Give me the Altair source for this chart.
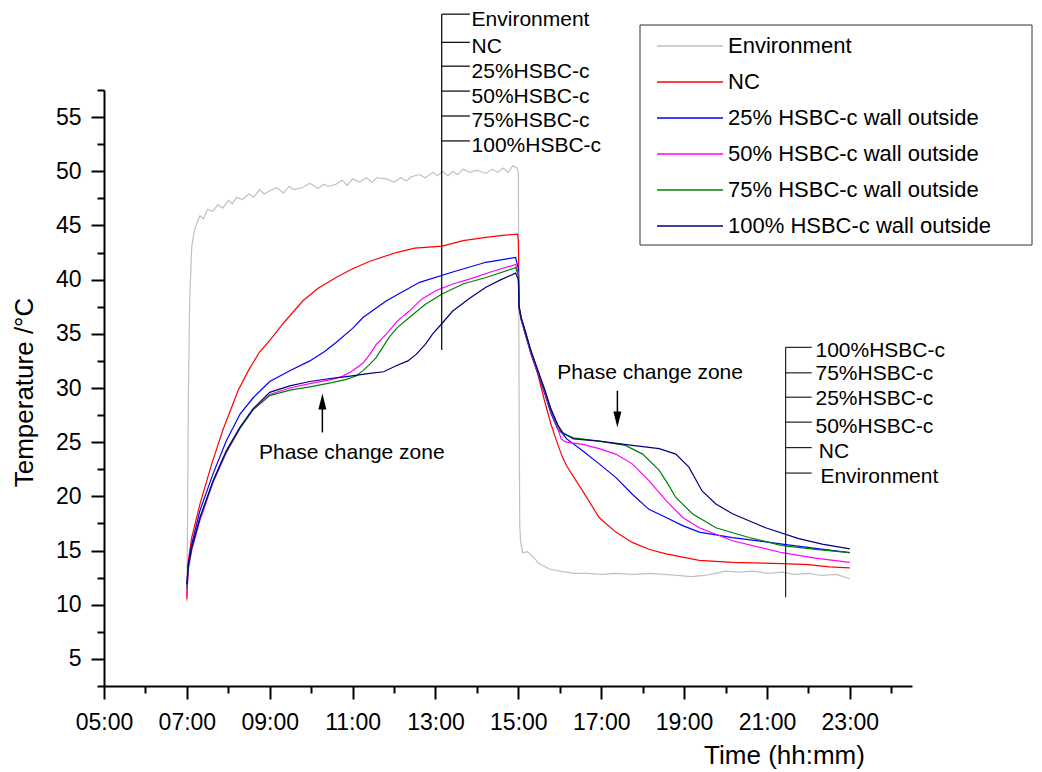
import altair as alt
import pandas as pd

FONT = "Liberation Sans, Arial, sans-serif"

series_names = ["Environment", "NC", "25% HSBC-c wall outside", "50% HSBC-c wall outside",
                "75% HSBC-c wall outside", "100% HSBC-c wall outside"]
series_colors = ["#c0c0c0", "#ff0000", "#0000ff", "#ff00ff", "#008000", "#000080"]

env_t = ["07:00", "07:01", "07:02", "07:04", "07:07", "07:11", "07:15", "07:19",
         "07:24", "07:30", "07:37", "07:45", "07:52", "08:00", "08:06", "08:12",
         "08:20", "08:30", "08:37", "08:45", "08:52", "09:00", "09:10", "09:20",
         "09:28", "09:35", "09:48", "09:58", "10:10", "10:18", "10:25", "10:36",
         "10:45", "10:52", "11:00", "11:10", "11:20", "11:28", "11:35", "11:49",
         "12:00", "12:10", "12:18", "12:25", "12:37", "12:45", "12:56", "13:03",
         "13:10", "13:18", "13:25", "13:32", "13:40", "13:50", "14:00", "14:13",
         "14:22", "14:30", "14:38", "14:45", "14:52", "14:58", "15:00", "15:01",
         "15:02", "15:03", "15:06", "15:13", "15:20", "15:30", "15:45", "16:00",
         "16:20", "16:40", "17:00", "17:20", "17:45", "18:10", "18:30", "18:50",
         "19:10", "19:30", "19:45", "20:00", "20:20", "20:40", "21:00", "21:22",
         "21:40", "22:00", "22:20", "22:40", "23:00"]
env_v = [10.3, 18.0, 28.0, 38.0, 43.0, 44.6, 45.3, 45.9,
         45.6, 46.5, 46.3, 46.9, 46.6, 47.3, 47.0, 47.6,
         47.4, 47.9, 47.6, 48.3, 47.9, 48.2, 48.5, 48.0,
         48.6, 48.3, 48.5, 48.9, 48.4, 48.8, 48.6, 48.8,
         49.2, 48.7, 49.3, 49.0, 49.4, 49.0, 49.4, 49.3,
         49.0, 49.4, 49.1, 49.5, 49.7, 49.4, 49.9, 49.6,
         50.0, 49.6, 50.0, 49.7, 50.2, 49.9, 50.1, 49.8,
         50.2, 49.9, 50.3, 49.9, 50.5, 50.3, 50.0, 30.0,
         17.5, 16.0, 14.8, 14.9, 14.5, 13.8, 13.3, 13.1,
         12.9, 12.9, 12.8, 12.9, 12.8, 12.9, 12.8, 12.7,
         12.6, 12.7, 12.9, 13.1, 13.0, 13.1, 12.9, 13.0,
         12.8, 12.9, 12.7, 12.8, 12.4]

nc_t = ["07:00", "07:02", "07:07", "07:19", "07:36", "07:52", "08:14", "08:29",
        "08:45", "09:00", "09:20", "09:48", "10:10", "10:36", "11:00", "11:25",
        "12:03", "12:30", "13:10", "13:40", "14:13", "14:40", "14:59", "15:00",
        "15:01", "15:04", "15:08", "15:18", "15:28", "15:38", "15:47", "15:57",
        "16:04", "16:10", "16:33", "16:57", "17:21", "17:45", "18:10", "18:34",
        "19:22", "20:10", "21:22", "22:00", "22:30", "23:00"]
nc_v = [10.5, 14.0, 16.2, 19.3, 23.0, 26.1, 29.75, 31.6,
        33.3, 34.4, 36.0, 38.05, 39.2, 40.2, 41.0, 41.7,
        42.5, 42.9, 43.1, 43.6, 43.9, 44.1, 44.2, 43.5,
        37.6, 36.5, 35.6, 33.3, 31.3, 28.8, 26.7, 24.8,
        23.6, 22.8, 20.5, 18.05, 16.7, 15.75, 15.1, 14.7,
        14.1, 13.9, 13.8, 13.7, 13.5, 13.4]

h25_t = ["07:00", "07:02", "07:07", "07:19", "07:38", "07:57", "08:17", "08:36",
         "09:00", "09:29", "09:58", "10:20", "10:36", "11:00", "11:15", "11:49",
         "12:37", "13:25", "14:13", "14:56", "15:00", "15:01", "15:04", "15:08",
         "15:18", "15:28", "15:38", "15:47", "15:57", "16:04", "16:10", "16:33",
         "16:57", "17:21", "17:45", "18:09", "18:34", "18:58", "19:22", "20:10",
         "21:22", "22:10", "23:00"]
h25_v = [11.8, 13.8, 15.6, 18.7, 22.1, 25.1, 27.6, 29.1,
         30.6, 31.6, 32.5, 33.4, 34.2, 35.5, 36.5, 38.05,
         39.75, 40.7, 41.6, 42.05, 41.0, 37.4, 36.3, 35.4,
         33.2, 31.4, 29.5, 27.7, 26.2, 25.8, 25.3, 24.2,
         23.0, 21.75, 20.2, 18.8, 18.05, 17.3, 16.7, 16.2,
         15.6, 15.2, 14.8]

h50_t = ["07:00", "07:02", "07:07", "07:19", "07:38", "07:57", "08:17", "08:36",
         "09:00", "09:29", "09:58", "10:30", "10:46", "11:00", "11:15", "11:25",
         "11:34", "11:49", "12:05", "12:22", "12:40", "13:01", "13:25", "13:49",
         "14:20", "14:56", "15:00", "15:01", "15:04", "15:08", "15:18", "15:28",
         "15:38", "15:47", "15:57", "16:02", "16:09", "16:33", "16:57", "17:21",
         "17:45", "18:09", "18:34", "18:58", "19:22", "20:10", "21:22", "22:10",
         "23:00"]
h50_v = [10.8, 13.2, 15.0, 17.8, 21.3, 24.0, 26.3, 28.0,
         29.4, 30.0, 30.4, 30.8, 31.1, 31.6, 32.3, 33.1,
         34.0, 35.0, 36.2, 37.1, 38.2, 39.0, 39.6, 40.05,
         40.7, 41.4, 40.6, 37.4, 36.3, 35.5, 33.3, 31.5,
         29.7, 27.9, 26.3, 25.3, 25.0, 24.8, 24.4, 23.9,
         23.0, 21.45, 19.6, 18.05, 17.1, 15.9, 14.8, 14.3,
         13.9]

h75_t = ["07:00", "07:02", "07:07", "07:19", "07:38", "07:57", "08:17", "08:36",
         "09:00", "09:29", "09:58", "10:30", "10:51", "11:05", "11:15", "11:25",
         "11:34", "11:44", "11:53", "12:05", "12:22", "12:45", "13:10", "13:40",
         "14:13", "14:56", "15:00", "15:01", "15:04", "15:08", "15:18", "15:28",
         "15:38", "15:47", "15:57", "16:04", "16:20", "16:57", "17:35", "18:00",
         "18:24", "18:36", "18:48", "19:12", "19:46", "20:34", "21:22", "22:10",
         "23:00"]
h75_v = [11.5, 13.5, 15.2, 18.0, 21.4, 24.1, 26.3, 28.0,
         29.3, 29.8, 30.1, 30.5, 30.8, 31.1, 31.6, 32.2,
         32.8, 33.8, 34.7, 35.6, 36.5, 37.7, 38.7, 39.6,
         40.2, 41.1, 40.4, 37.5, 36.5, 35.6, 33.4, 31.6,
         29.8, 28.0, 26.5, 25.8, 25.4, 25.1, 24.7, 23.9,
         22.4, 21.2, 19.9, 18.4, 17.1, 16.2, 15.45, 15.1,
         14.8]

h100_t = ["07:00", "07:02", "07:07", "07:19", "07:38", "07:57", "08:17", "08:36",
          "09:00", "09:29", "09:58", "10:30", "10:46", "11:25", "11:45", "12:03",
          "12:20", "12:32", "12:45", "12:56", "13:10", "13:25", "13:50", "14:13",
          "14:35", "14:56", "15:00", "15:01", "15:04", "15:08", "15:18", "15:28",
          "15:38", "15:47", "15:57", "16:04", "16:20", "16:57", "17:45", "18:24",
          "18:48", "19:07", "19:26", "19:46", "20:10", "20:58", "21:46", "22:20",
          "23:00"]
h100_v = [11.9, 13.6, 15.3, 18.05, 21.45, 24.2, 26.4, 28.1,
          29.6, 30.2, 30.6, 30.9, 31.0, 31.35, 31.5, 32.05,
          32.5, 33.1, 34.0, 35.0, 36.0, 37.1, 38.3, 39.3,
          40.0, 40.6, 40.0, 37.5, 36.5, 35.7, 33.5, 31.7,
          29.9, 28.1, 26.6, 25.9, 25.3, 25.1, 24.7, 24.4,
          23.9, 22.7, 20.5, 19.3, 18.4, 17.1, 16.1, 15.6,
          15.15]

x_major_ticks = [5, 7, 9, 11, 13, 15, 17, 19, 21, 23]
x_minor_ticks = [6, 8, 10, 12, 14, 16, 18, 20, 22, 24]
y_major_ticks = [5, 10, 15, 20, 25, 30, 35, 40, 45, 50, 55]
y_minor_ticks = [2.5, 7.5, 12.5, 17.5, 22.5, 27.5, 32.5, 37.5, 42.5, 47.5, 52.5, 57.5]

# annotation brackets (in data units: hours, degC)
top_labels = ["Environment", "NC", "25%HSBC-c", "50%HSBC-c", "75%HSBC-c", "100%HSBC-c"]
top_tick_y = [64.5, 61.9, 59.7, 57.4, 55.1, 52.8]
top_label_y = [63.95, 61.5, 59.2, 56.9, 54.6, 52.3]
right_labels = ["100%HSBC-c", "75%HSBC-c", "25%HSBC-c", "50%HSBC-c", "NC", "Environment"]
right_tick_y = [33.75, 31.4, 29.15, 26.85, 24.5, 22.15]
right_label_y = [33.45, 31.3, 29.0, 26.4, 24.05, 21.75]
right_label_x = [22.17, 22.17, 22.17, 22.17, 22.25, 22.29]


def hours(s):
    h, m = s.split(":")
    return int(h) + int(m) / 60.0


rows = []
for name, ts, vs in zip(series_names,
                        [env_t, nc_t, h25_t, h50_t, h75_t, h100_t],
                        [env_v, nc_v, h25_v, h50_v, h75_v, h100_v]):
    for t, v in zip(ts, vs):
        rows.append({"series": name, "hour": hours(t), "temp": v})
df = pd.DataFrame(rows)

x_scale = alt.Scale(domain=[5, 24.5], nice=False, zero=False)
y_scale = alt.Scale(domain=[2.5, 57.5], nice=False, zero=False)

common = dict(domainColor="black", tickColor="black", tickWidth=2, grid=False,
              labelFont=FONT, labelColor="black", titleFont=FONT, titleColor="black",
              labelOverlap=False, labelFlush=False)

x_major = alt.Axis(orient="bottom", values=x_major_ticks, tickSize=13, domainWidth=2,
                   labelFontSize=23, labelPadding=12,
                   labelExpr="(datum.value < 10 ? '0' : '') + datum.value + ':00'",
                   title="Time (hh:mm)", titleFontSize=26, titleFontWeight="normal",
                   titleX=680, titleY=77, titleAlign="center", titleBaseline="alphabetic",
                   **common)
y_major = alt.Axis(orient="left", values=y_major_ticks, tickSize=13, domainWidth=2,
                   labelFontSize=23, labelPadding=10,
                   title="Temperature /°C", titleFontSize=26, titleFontWeight="normal",
                   titleAngle=270, titleX=-80, titleY=302, titleAlign="center",
                   titleBaseline="middle", **common)
x_minor = alt.Axis(orient="bottom", values=x_minor_ticks, tickSize=7, labels=False,
                   domain=False, title=None, tickColor="black", tickWidth=2, grid=False)
y_minor = alt.Axis(orient="left", values=y_minor_ticks, tickSize=7, labels=False,
                   domain=False, title=None, tickColor="black", tickWidth=2, grid=False)

legend = alt.Legend(orient="none", legendX=536, legendY=-64, title=None,
                    symbolType="stroke", symbolSize=4356, symbolStrokeWidth=1.5,
                    labelFontSize=22, labelFont=FONT, labelColor="black", labelLimit=600,
                    labelOffset=4, symbolOffset=14, padding=2, rowPadding=0, clipHeight=36)

minor = alt.Chart(df).mark_line(opacity=0).encode(
    x=alt.X("hour:Q", scale=x_scale, axis=x_minor),
    y=alt.Y("temp:Q", scale=y_scale, axis=y_minor),
    detail="series:N",
)

# legend frame (decoration, in pixels of the plot area)
legend_box = alt.Chart(pd.DataFrame({"k": [0]})).mark_rect(
    fill="white", stroke="#333333", strokeWidth=1).encode(
    x=alt.value(536), x2=alt.value(928), y=alt.value(-65), y2=alt.value(155))

lines = alt.Chart(df).mark_line(strokeWidth=1.2).encode(
    x=alt.X("hour:Q", scale=x_scale, axis=x_major),
    y=alt.Y("temp:Q", scale=y_scale, axis=y_major),
    color=alt.Color("series:N", scale=alt.Scale(domain=series_names, range=series_colors),
                    legend=legend),
)

# top bracket
top_v = alt.Chart(pd.DataFrame({"x": [13.15], "y": [64.5], "y2": [33.5]})).mark_rule(
    color="black", strokeWidth=1.2).encode(
    x=alt.X("x:Q", scale=x_scale, axis=None), y=alt.Y("y:Q", scale=y_scale, axis=None), y2="y2:Q")
top_h = alt.Chart(pd.DataFrame({"x": [13.15] * 6, "x2": [13.83] * 6, "y": top_tick_y})).mark_rule(
    color="black", strokeWidth=1.2).encode(
    x=alt.X("x:Q", scale=x_scale, axis=None), x2="x2:Q", y=alt.Y("y:Q", scale=y_scale, axis=None))
top_txt = alt.Chart(pd.DataFrame({"x": [13.87] * 6, "y": top_label_y, "t": top_labels})).mark_text(
    align="left", baseline="middle", fontSize=21, font=FONT, color="black").encode(
    x=alt.X("x:Q", scale=x_scale, axis=None), y=alt.Y("y:Q", scale=y_scale, axis=None), text="t:N")

# right bracket
r_v = alt.Chart(pd.DataFrame({"x": [21.45], "y": [33.75], "y2": [10.7]})).mark_rule(
    color="#222222", strokeWidth=1.2).encode(
    x=alt.X("x:Q", scale=x_scale, axis=None), y=alt.Y("y:Q", scale=y_scale, axis=None), y2="y2:Q")
r_h = alt.Chart(pd.DataFrame({"x": [21.45] * 6, "x2": [22.08] * 6, "y": right_tick_y})).mark_rule(
    color="#222222", strokeWidth=1.2).encode(
    x=alt.X("x:Q", scale=x_scale, axis=None), x2="x2:Q", y=alt.Y("y:Q", scale=y_scale, axis=None))
r_txt = alt.Chart(pd.DataFrame({"x": right_label_x, "y": right_label_y, "t": right_labels})).mark_text(
    align="left", baseline="middle", fontSize=21, font=FONT, color="black").encode(
    x=alt.X("x:Q", scale=x_scale, axis=None), y=alt.Y("y:Q", scale=y_scale, axis=None), text="t:N")

# phase change zone annotations
pc_txt = alt.Chart(pd.DataFrame({"x": [10.98, 18.18], "y": [24.0, 31.4],
                                 "t": ["Phase change zone", "Phase change zone"]})).mark_text(
    align="center", baseline="middle", fontSize=21, font=FONT, color="black").encode(
    x=alt.X("x:Q", scale=x_scale, axis=None), y=alt.Y("y:Q", scale=y_scale, axis=None), text="t:N")
shafts = alt.Chart(pd.DataFrame({"x": [10.27, 17.39], "y": [25.9, 29.75], "y2": [28.2, 27.6]})).mark_rule(
    color="black", strokeWidth=1.5).encode(
    x=alt.X("x:Q", scale=x_scale, axis=None), y=alt.Y("y:Q", scale=y_scale, axis=None), y2="y2:Q")
head_up = alt.Chart(pd.DataFrame({"x": [10.27], "y": [29.5]})).mark_point(
    shape="M0,0 L-0.5,2 L0.5,2 Z", filled=True, size=256, color="black", opacity=1).encode(
    x=alt.X("x:Q", scale=x_scale, axis=None), y=alt.Y("y:Q", scale=y_scale, axis=None))
head_down = alt.Chart(pd.DataFrame({"x": [17.39], "y": [26.35]})).mark_point(
    shape="M0,0 L-0.5,-2 L0.5,-2 Z", filled=True, size=256, color="black", opacity=1).encode(
    x=alt.X("x:Q", scale=x_scale, axis=None), y=alt.Y("y:Q", scale=y_scale, axis=None))

chart = alt.layer(
    minor, legend_box, lines, top_v, top_h, top_txt, r_v, r_h, r_txt, pc_txt, shafts,
    head_up, head_down
).resolve_axis(x="independent", y="independent").properties(
    width=808, height=596,
    autosize=alt.AutoSizeParams(type="none"),
    padding={"left": 96, "top": 82, "right": 122, "bottom": 83},
).configure_view(stroke=None)

chart.save("out.html", embed_options={"renderer": "svg", "actions": False})
